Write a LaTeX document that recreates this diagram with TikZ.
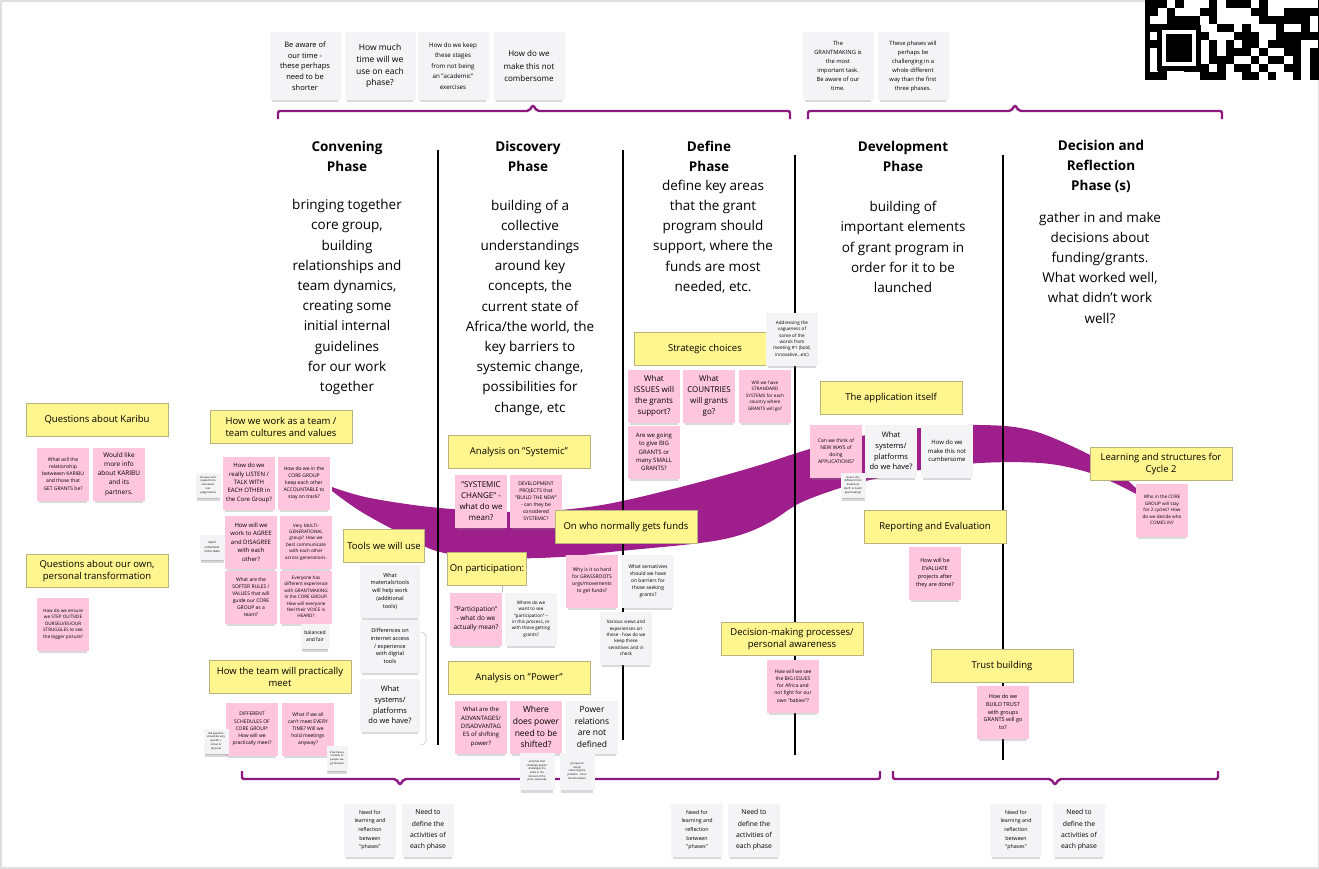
\documentclass[tikz,border=0pt]{standalone}
\usepackage{fontspec}
\setmainfont{Open Sans}
\usepackage{xcolor}
\usepackage{tikz}
\usetikzlibrary{shadows}

\definecolor{stickyyellow}{HTML}{FFF68F}
\definecolor{yedge}{HTML}{B9B27C}
\definecolor{stickypink}{HTML}{FFC6DD}
\definecolor{stickygray}{HTML}{F4F4F6}
\definecolor{swoosh}{HTML}{9E1F8C}
\definecolor{bracepurple}{HTML}{8C1A7E}

\begin{document}
\begin{tikzpicture}[
    x=1pt, y=-1pt,
    phase/.style={align=center, font=\bfseries\fontsize{13.5}{20}\selectfont},
    desc/.style={align=center, font=\fontsize{13.5}{20.2}\selectfont},
    ybox/.style={rectangle, draw=yedge, fill=stickyyellow, line width=0.6pt, minimum width=142pt, minimum height=33pt, align=center, inner sep=2pt, font=\fontsize{9.5}{12.5}\selectfont},
    pnote/.style={rectangle, fill=stickypink, minimum width=52pt, minimum height=53pt, inner sep=1pt, align=center, drop shadow={shadow xshift=0pt, shadow yshift=-5pt, shadow scale=0.92, opacity=0.3}},
    gnote/.style={pnote, fill=stickygray},
    topnote/.style={gnote, minimum width=71pt, minimum height=68pt},
    tinynote/.style={gnote, minimum width=25pt, minimum height=25pt, drop shadow={shadow xshift=0pt, shadow yshift=-3pt, shadow scale=0.9, opacity=0.3}},
    f85/.style={font=\fontsize{8.5}{11.8}\selectfont},
    f8/.style={font=\fontsize{8}{11.2}\selectfont},
    f75/.style={font=\fontsize{7.5}{10.6}\selectfont},
    f7/.style={font=\fontsize{7}{10.2}\selectfont},
    f65/.style={font=\fontsize{6.5}{9.2}\selectfont},
    f6/.style={font=\fontsize{6}{8.4}\selectfont},
    f55/.style={font=\fontsize{5.5}{7.8}\selectfont},
    f5/.style={font=\fontsize{5}{7.1}\selectfont},
    f45/.style={font=\fontsize{4.6}{6.4}\selectfont},
    f3/.style={font=\fontsize{3}{4.3}\selectfont},
    f25/.style={font=\fontsize{2.6}{3.7}\selectfont},
    divider/.style={line width=1.6pt, black},
    brace/.style={line width=2.4pt, draw=bracepurple, rounded corners=2pt},
    link/.style={draw=gray!55, line width=0.5pt}
]
\useasboundingbox (0,0) rectangle (1319,868);
\draw[gray!25, line width=3pt] (0,0) rectangle (1319,868);

% QR code corner
\fill[black] (1145,0) rectangle (1319,80);
\pgfmathsetseed{11}
\foreach \qi in {0,...,19}{
    \foreach \qj in {0,...,9}{
        \pgfmathtruncatemacro\qbit{rnd<0.42}
        \ifnum\qbit=1 \fill[white] (1150+\qi*8.4,\qj*8) rectangle ++(8.4,8); \fi
    }
}
\fill[black] (1157,25) rectangle (1201,71);
\draw[white, line width=4pt] (1164,32) rectangle (1194,64);

% Purple swoosh
\fill[swoosh] plot[smooth, tension=0.6] coordinates {(332,487) (370,498) (440,508) (520,512) (580,508) (627,500) (700,482) (760,465) (800,452) (850,438) (920,428) (980,425) (1030,430) (1080,450) (1115,470) (1142,494)}
    -- plot[smooth, tension=0.6] coordinates {(1142,497) (1110,481) (1080,470) (1040,463) (980,463) (920,470) (870,480) (840,488) (800,503) (770,522) (740,535) (700,543) (620,551) (560,557) (500,558) (440,552) (400,533) (360,511) (332,491)} -- cycle;

% Phase dividers
\draw[divider] (438,150) -- (438,745);
\draw[divider] (623,150) -- (623,740);
\draw[divider] (795,155) -- (795,755);
\draw[divider] (1003,155) -- (1003,760);
\draw[gray!45, line width=0.6pt, rounded corners=2pt] (421,632) -- (426,634) -- (426,743) -- (421,745);

% Braces
\draw[brace] (278,119) -- (278,111) -- (529,111) -- (533,105) -- (537,111) -- (790,111) -- (790,119);
\draw[brace] (808,119) -- (808,111) -- (1011,111) -- (1015,105) -- (1019,111) -- (1222,111) -- (1222,119);
\draw[brace] (242,771) -- (242,779) -- (396,779) -- (400,785) -- (404,779) -- (880,779) -- (880,771);
\draw[brace] (893,771) -- (893,779) -- (1051,779) -- (1055,785) -- (1059,779) -- (1218,779) -- (1218,771);

% 1. Top notes
\node[topnote, f75] (top_aware) at (305,66) {Be aware of\\our time -\\these perhaps\\need to be\\shorter};
\node[topnote, f85] (top_time) at (380,66) {How much\\time will we\\use on each\\phase?};
\node[topnote, f6, font=\fontsize{6.2}{10.4}\selectfont] (top_academic) at (453,66) {How do we keep\\these stages\\from not being\\an "academic"\\exercises};
\node[topnote, f8, font=\fontsize{8}{12.4}\selectfont] (top_cumbersome) at (529,66) {How do we\\make this not\\combersome};
\node[topnote, f55, font=\fontsize{5.8}{9}\selectfont] (top_grantmaking) at (838,66) {The\\GRANTMAKING is\\the most\\important task.\\Be aware of our\\time.};
\node[topnote, f55, font=\fontsize{5.8}{9}\selectfont] (top_challenging) at (913,66) {These phases will\\perhaps be\\challenging in a\\whole different\\way than the first\\three phases.};

% 2. Phase headings
\node[phase] (conv_title) at (347,156) {Convening\\Phase};
\node[desc] (conv_desc) at (347,297) {bringing together\\core group,\\building\\relationships and\\team dynamics,\\creating some\\initial internal\\guidelines\\for our work\\together};
\node[phase] (disc_title) at (528,156) {Discovery\\Phase};
\node[desc] (disc_desc) at (530,307.5) {building of a\\collective\\understandings\\around key\\concepts, the\\current state of\\Africa/the world, the\\key barriers to\\systemic change,\\possibilities for\\change, etc};
\node[phase] (def_title) at (709,156) {Define\\Phase};
\node[desc] (def_desc) at (713,236.5) {define key areas\\that the grant\\program should\\support, where the\\funds are most\\needed, etc.};
\node[phase] (dev_title) at (903,156) {Development\\Phase};
\node[desc] (dev_desc) at (903,247) {building of\\important elements\\of grant program in\\order for it to be\\launched};
\node[phase] (dec_title) at (1101,166) {Decision and\\Reflection\\Phase (s)};
\node[desc] (dec_desc) at (1100,267.5) {gather in and make\\decisions about\\funding/grants.\\What worked well,\\what didn't work\\well?};

% 3. Left questions
\node[ybox] (q_karibu) at (97,420) {Questions about Karibu};
\node[pnote, f5] (karibu_relation) at (63,474) {What will the\\relationship\\betweeen KARIBU\\and those that\\GET GRANTS be?};
\node[pnote, f65] (karibu_info) at (119,474) {Would like\\more info\\about KARIBU\\and its\\partners.};
\node[ybox] (q_personal) at (97,571) {Questions about our own,\\personal transformation};
\node[pnote, f45] (personal_step) at (63,624) {How do we ensure\\we STEP OUTSIDE\\OURSELVES/OUR\\STRUGGLES to see\\the bigger picture?};

% 4. Convening
\node[ybox] (team_culture) at (281,427) {How we work as a team /\\team cultures and values};
\node[pnote, f6] (c_listen) at (249,483) {How do we\\really LISTEN /\\TALK WITH\\EACH OTHER in\\the Core Group?};
\node[pnote, f5] (c_accountable) at (304,483) {How do we in the\\CORE GROUP\\keep each other\\ACCOUNTABLE to\\stay on track?};
\node[pnote, f6] (c_agree) at (251,542) {How will we\\work to AGREE\\and DISAGREE\\with each\\other?};
\node[pnote, f45] (c_multigen) at (306,542) {Very MULTI-\\GENERATIONAL\\group?  How we\\best communicate\\with each other\\across generations.};
\node[pnote, f5] (c_softer) at (251,597) {What are the\\SOFTER RULES /\\VALUES that will\\guide our CORE\\GROUP as a\\team?};
\node[pnote, f45] (c_everyone) at (306,597) {Everyone has\\different experience\\with GRANTMAKING\\in the CORE GROUP.\\How will everyone\\feel their VOICE is\\HEARD?};
\node[tinynote, f25] (c_open) at (208,485) {Be open and\\respectful to\\new ideas!\\less\\judgemental};
\node[tinynote, f3] (c_consensus) at (212,547) {reach\\consensus\\in the team};
\node[tinynote, f5, minimum width=29pt] (c_balanced) at (315,636) {balanced\\and fair};
\node[ybox] (team_meet) at (280,677) {How the team will practically\\meet};
\node[pnote, f5] (m_schedules) at (252,729) {DIFFERENT\\SCHEDULES OF\\CORE GROUP:\\How will we\\practically meet?};
\node[pnote, f5] (m_everytime) at (308,729) {What if we all\\can't meet EVERY\\TIME?  Will we\\hold meetings\\anyway?};
\node[tinynote, f25] (m_specific) at (216,741) {We question\\should be very\\specific +\\virtual or\\physical};
\node[tinynote, f25, minimum width=21pt] (m_forward) at (337,758) {If we have a\\number of\\people, we\\go forward};

% Tools
\node[ybox, minimum width=81pt] (tools) at (384,546) {Tools we will use};
\node[gnote, f55, minimum width=60pt] (t_materials) at (390,591) {What\\materials/tools\\will help work\\(additional\\tools)};
\node[gnote, f55, minimum width=60pt] (t_internet) at (390,646) {Differences on\\internet access\\/ experience\\with digital\\tools};
\node[gnote, f75, minimum width=60pt] (t_systems) at (390,705) {What\\systems/\\platforms\\do we have?};

% 5. Discovery
\node[ybox] (a_systemic) at (519,452) {Analysis on "Systemic"};
\node[pnote, f8] (s_change) at (481,501) {"SYSTEMIC\\CHANGE" -\\what do we\\mean?};
\node[pnote, f5] (s_projects) at (536,501) {DEVELOPMENT\\PROJECTS that\\"BUILD THE NEW"\\- can they be\\considered\\SYSTEMIC?};
\node[ybox, minimum width=79pt] (on_participation) at (487,569) {On participation:};
\node[pnote, f65] (p_meaning) at (476,619) {"Participation"\\- what do we\\actually mean?};
\node[gnote, f45] (p_where) at (531,619) {Where do we\\want to see\\"participation" –\\in this process, or\\with those getting\\grants?};
\draw[link] (on_participation.south -| p_meaning.east) -- (p_meaning.north east);
\node[ybox] (a_power) at (519,678) {Analysis on "Power"};
\node[pnote, f6] (w_advantages) at (481,727) {What are the\\ADVANTAGES/\\DISADVANTAG\\ES of shifting\\power?};
\node[pnote, f85] (w_where) at (536,727) {Where\\does power\\need to be\\shifted?};
\node[gnote, f85] (w_relations) at (592,727) {Power\\relations\\are not\\defined};
\node[tinynote, f25, minimum width=35pt, minimum height=37pt] (w_activities) at (537,771) {activities that\\challenge power/\\challenges the\\elites in the\\interest of the\\poor, especially};
\node[tinynote, f25, minimum width=35pt, minimum height=37pt] (w_beyond) at (577,771) {go beyond\\simply\\reforming the\\problem - more\\transformative};

% Funds
\node[ybox] (on_funds) at (626,527) {On who normally gets funds};
\node[pnote, f5] (f_grassroots) at (592,581) {Why is it so hard\\for GRASSROOTS\\orgs/movements\\to get funds?};
\node[gnote, f5] (f_sensativies) at (648,581) {What sensativies\\should we have\\on  barriers for\\those seeking\\grants?};
\node[gnote, f45] (f_views) at (626,638) {Various views and\\experiences on\\these - how do we\\keep these\\sensitives and in\\check};

% 6. Define
\node[ybox] (strategic) at (705,349) {Strategic choices};
\node[pnote, f8] (s_issues) at (654,396) {What\\ISSUES will\\the grants\\support?};
\node[pnote, f8] (s_countries) at (709,396) {What\\COUNTRIES\\will grants\\go?};
\node[pnote, f45] (s_standard) at (765,396) {Will we have\\STRANDARD\\SYSTEMS for each\\country where\\GRANTS will go?};
\node[pnote, f6] (s_big) at (654,452) {Are we going\\to give BIG\\GRANTS or\\many SMALL\\GRANTS?};
\node[gnote, f45] (s_vagueness) at (792,339) {Addressing the\\vagueness of\\some of the\\words from\\meeting \#1 (bold,\\innovative...etc)};

% 7. Development
\node[ybox] (application) at (891,398) {The application itself};
\node[pnote, f5] (d_newways) at (836,451) {Can we think of\\NEW WAYS of\\doing\\APPLICATIONS?};
\node[gnote, f75] (d_systems) at (891,451) {What\\systems/\\platforms\\do we have?};
\node[gnote, f6] (d_cumbersome) at (947,451) {How do we\\make this not\\cumbersome};
\node[tinynote, f25] (d_north) at (853,485) {How is this\\different from\\traditional\\North to South\\grantmaking?};
\node[ybox] (reporting) at (935,527) {Reporting and Evaluation};
\node[pnote, f55] (d_evaluate) at (935,573) {How will be\\EVALUATE\\projects after\\they are done?};
\node[ybox] (decision_making) at (792,639) {Decision-making processes/\\personal awareness};
\node[pnote, f5] (d_bigissues) at (793,686) {How will we see\\the BIG ISSUES\\for Africa and\\not fight for our\\own "babies"?};
\node[ybox] (trust) at (1002,666) {Trust building};
\node[pnote, f55] (d_trust) at (1003,712) {How do we\\BUILD TRUST\\with groups\\GRANTS will go\\to?};

% 8. Decision and reflection
\node[ybox] (learning) at (1161,464) {Learning and structures for\\Cycle 2};
\node[pnote, f45] (l_cycles) at (1162,510) {Who in the CORE\\GROUP will stay\\for 2 cycles?  How\\do we decide who\\COMES IN?};

% 9. Bottom notes
\foreach \bx/\bn in {370/a, 697/b, 1016/c}{
    \node[gnote, f55, font=\fontsize{5.3}{8.6}\selectfont] (need_learning_\bn) at (\bx,830) {Need for\\learning and\\reflection\\between\\"phases"};
}
\foreach \bx/\bn in {428/a, 754/b, 1079/c}{
    \node[gnote, f7, font=\fontsize{6.8}{11.2}\selectfont] (need_define_\bn) at (\bx,830) {Need to\\define the\\activities of\\each phase};
}

\end{tikzpicture}
\end{document}
